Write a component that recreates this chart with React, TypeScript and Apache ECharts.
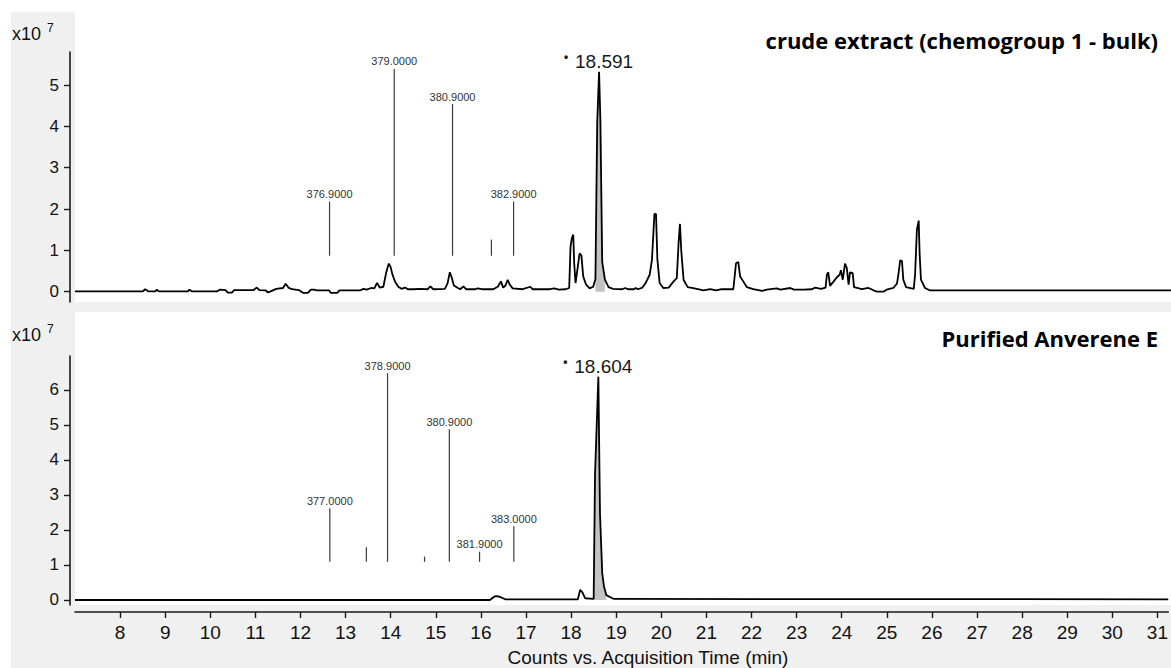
import React, { useEffect, useRef } from 'react';
import * as echarts from 'echarts';

const AXIS_FONT = '"Liberation Sans", Arial, sans-serif';
const TITLE_FONT = '"Open Sans", "Noto Sans", sans-serif';

// Retention-time axis (min)
const timeMin = 7;
const timeMax = 31.24;
const timeTicks = [8, 9, 10, 11, 12, 13, 14, 15, 16, 17, 18, 19, 20, 21, 22, 23, 24, 25, 26, 27, 28, 29, 30, 31];

// Intensity axes (x10^7 counts)
const crudeYTicks = [0, 1, 2, 3, 4, 5];
const pureYTicks = [0, 1, 2, 3, 4, 5, 6];

const crudeTitle = 'crude extract (chemogroup 1 - bulk)';
const pureTitle = 'Purified Anverene E';
const xAxisTitle = 'Counts vs. Acquisition Time (min)';

// Crude extract TIC: [time (min), counts x10^7]
const crudeTrace: [number, number][] = [
  [7.0, 0.01], [8.5, 0.01], [8.55, 0.06], [8.62, 0.01], [8.78, 0.01], [8.81, 0.05], [8.85, 0.01],
  [9.5, 0.01], [9.53, 0.05], [9.58, 0.01], [10.15, 0.01], [10.2, 0.05], [10.33, 0.04], [10.38, -0.02],
  [10.47, -0.02], [10.52, 0.04], [10.95, 0.04], [11.02, 0.1], [11.08, 0.04], [11.22, 0.03], [11.27, -0.02],
  [11.35, 0.02], [11.45, 0.07], [11.6, 0.09], [11.66, 0.19], [11.72, 0.1], [11.8, 0.06], [11.95, 0.04],
  [12.05, -0.03], [12.15, -0.03], [12.22, 0.05], [12.28, 0.05], [12.35, 0.03], [12.62, 0.03], [12.66, -0.03],
  [12.8, -0.03], [12.85, 0.03], [13.3, 0.03], [13.38, 0.07], [13.45, 0.05], [13.55, 0.09], [13.62, 0.08],
  [13.68, 0.21], [13.74, 0.1], [13.82, 0.12], [13.88, 0.45], [13.94, 0.68], [13.98, 0.6], [14.02, 0.42],
  [14.08, 0.24], [14.15, 0.12], [14.22, 0.07], [14.3, 0.1], [14.36, 0.06], [14.5, 0.06], [14.6, 0.07],
  [14.8, 0.06], [14.86, 0.13], [14.92, 0.06], [15.18, 0.07], [15.24, 0.2], [15.29, 0.47], [15.33, 0.35],
  [15.38, 0.15], [15.45, 0.1], [15.52, 0.06], [15.59, 0.13], [15.65, 0.06], [15.85, 0.06], [15.9, 0.08],
  [16.0, 0.06], [16.25, 0.06], [16.35, 0.12], [16.42, 0.25], [16.47, 0.1], [16.52, 0.15], [16.57, 0.29],
  [16.61, 0.18], [16.68, 0.08], [16.9, 0.06], [17.07, 0.12], [17.12, 0.06], [17.5, 0.06], [17.6, 0.08],
  [17.7, 0.05], [17.85, 0.06], [17.93, 0.09], [17.96, 1.1], [17.99, 1.3], [18.02, 1.38], [18.04, 0.7],
  [18.07, 0.21], [18.12, 0.6], [18.16, 0.93], [18.2, 0.88], [18.24, 0.37], [18.3, 0.18], [18.38, 0.08],
  [18.46, 0.12], [18.51, 0.3], [18.55, 4.1], [18.591, 5.32], [18.62, 4.15], [18.66, 0.72], [18.72, 0.29],
  [18.8, 0.11], [18.9, 0.07], [19.1, 0.06], [19.17, 0.09], [19.23, 0.06], [19.36, 0.06], [19.4, 0.09],
  [19.45, 0.06], [19.55, 0.1], [19.62, 0.21], [19.71, 0.41], [19.76, 0.77], [19.815, 1.88], [19.85, 1.88],
  [19.88, 0.79], [19.93, 0.21], [20.01, 0.09], [20.13, 0.1], [20.24, 0.25], [20.31, 0.33], [20.35, 1.19],
  [20.38, 1.64], [20.41, 0.97], [20.46, 0.29], [20.55, 0.11], [20.7, 0.08], [20.9, 0.03], [21.05, 0.06],
  [21.18, 0.03], [21.3, 0.06], [21.56, 0.06], [21.62, 0.69], [21.67, 0.72], [21.71, 0.37], [21.78, 0.25],
  [21.86, 0.11], [22.0, 0.06], [22.2, 0.02], [22.3, 0.05], [22.52, 0.08], [22.6, 0.05], [22.82, 0.09],
  [22.9, 0.05], [23.12, 0.05], [23.3, 0.06], [23.37, 0.1], [23.5, 0.07], [23.6, 0.1], [23.63, 0.41],
  [23.66, 0.47], [23.7, 0.14], [23.78, 0.25], [23.85, 0.35], [23.91, 0.41], [23.94, 0.52], [23.98, 0.29],
  [24.03, 0.68], [24.07, 0.57], [24.11, 0.17], [24.14, 0.47], [24.2, 0.45], [24.23, 0.11], [24.4, 0.06],
  [24.55, 0.09], [24.65, 0.04], [24.74, 0.0], [24.88, 0.0], [24.95, 0.05], [25.1, 0.09], [25.18, 0.2],
  [25.21, 0.41], [25.25, 0.76], [25.29, 0.74], [25.32, 0.29], [25.38, 0.11], [25.55, 0.07], [25.58, 0.41],
  [25.62, 1.5], [25.66, 1.72], [25.68, 0.93], [25.71, 0.29], [25.8, 0.09], [25.91, 0.03], [31.24, 0.03],
];

// Purified compound TIC: [time (min), counts x10^7]
const pureTrace: [number, number][] = [
  [7.0, 0.0], [16.2, 0.0], [16.3, 0.1], [16.36, 0.11], [16.44, 0.08], [16.54, 0.02], [18.15, 0.02],
  [18.2, 0.29], [18.25, 0.22], [18.31, 0.05], [18.5, 0.03], [18.53, 3.57], [18.604, 6.38], [18.64, 2.48],
  [18.69, 0.76], [18.73, 0.38], [18.78, 0.14], [18.87, 0.08], [18.95, 0.03], [31.24, 0.02],
];

// Integrated peak windows (min)
const crudeIntegration = [18.5, 18.72];
const pureIntegration = [18.5, 18.78];

// Spectrum ions drawn over the chromatogram (position, height, m/z label)
const crudeIonTimes = [12.63, 14.06, 15.35, 16.21, 16.7];
const crudeIonTops = [2.18, 5.39, 4.54, 1.26, 2.18];
const crudeIonLabels = ['376.9000', '379.0000', '380.9000', '', '382.9000'];
const crudeIonBase = 0.87;

const pureIonTimes = [12.65, 13.46, 13.93, 14.75, 15.3, 15.97, 16.73];
const pureIonTops = [2.62, 1.51, 6.48, 1.24, 4.88, 1.38, 2.11];
const pureIonLabels = ['377.0000', '', '378.9000', '', '380.9000', '381.9000', '383.0000'];
const pureIonBase = 1.09;

function traceSeries(panel: number, trace: [number, number][]) {
  return {
    type: 'line',
    xAxisIndex: panel,
    yAxisIndex: panel,
    data: trace,
    symbol: 'none',
    silent: true,
    z: 3,
    lineStyle: { color: '#000', width: 1.8 },
  };
}

function integrationSeries(panel: number, trace: [number, number][], win: number[]) {
  return {
    type: 'line',
    xAxisIndex: panel,
    yAxisIndex: panel,
    data: trace.filter(([t]) => t >= win[0] && t <= win[1]),
    symbol: 'none',
    silent: true,
    z: 2,
    lineStyle: { width: 0 },
    areaStyle: { color: '#c3c3c3', opacity: 1 },
  };
}

function ionSeries(panel: number, times: number[], tops: number[], labels: string[], base: number) {
  return {
    type: 'custom',
    xAxisIndex: panel,
    yAxisIndex: panel,
    clip: false,
    silent: true,
    z: 4,
    data: times.map((t, i) => [t, tops[i]]),
    renderItem: (params: any, api: any) => {
      const t = api.value(0);
      const p0 = api.coord([t, base]);
      const p1 = api.coord([t, api.value(1)]);
      const children: any[] = [
        {
          type: 'line',
          shape: { x1: p0[0], y1: p0[1], x2: p1[0], y2: p1[1] },
          style: { stroke: '#3a3a3a', lineWidth: 1.2 },
        },
      ];
      const label = labels[params.dataIndex];
      if (label) {
        children.push({
          type: 'text',
          x: p1[0],
          y: p1[1] - 2,
          style: {
            text: label,
            textAlign: 'center',
            textVerticalAlign: 'bottom',
            font: `11px ${AXIS_FONT}`,
            fill: '#333',
          },
        });
      }
      return { type: 'group', children };
    },
  };
}

function apexSeries(panel: number, trace: [number, number][]) {
  const apex = trace.reduce((a, b) => (b[1] > a[1] ? b : a));
  return {
    type: 'custom',
    xAxisIndex: panel,
    yAxisIndex: panel,
    clip: false,
    silent: true,
    z: 5,
    data: [apex],
    renderItem: (_params: any, api: any) => {
      const t = api.value(0);
      const p = api.coord([t, api.value(1)]);
      return {
        type: 'group',
        children: [
          {
            type: 'text',
            x: p[0] + 5,
            y: p[1] - 1,
            style: {
              text: t.toFixed(3),
              textAlign: 'center',
              textVerticalAlign: 'bottom',
              font: `19px ${AXIS_FONT}`,
              fill: '#1a1a1a',
            },
          },
          {
            type: 'text',
            x: p[0] - 33,
            y: p[1] - 15,
            style: {
              text: '•',
              textAlign: 'center',
              textVerticalAlign: 'middle',
              font: `bold 12px ${AXIS_FONT}`,
              fill: '#1a1a1a',
            },
          },
        ],
      };
    },
  };
}

function yAxis(panel: number, min: number, max: number, ticks: number[]) {
  return {
    gridIndex: panel,
    type: 'value',
    min,
    max,
    offset: 5,
    axisLine: { show: true, onZero: false, lineStyle: { color: '#1a1a1a', width: 1.6 } },
    axisTick: { show: true, length: 6, customValues: ticks, lineStyle: { color: '#1a1a1a', width: 1.4 } },
    axisLabel: { customValues: ticks, margin: 11, fontSize: 17, color: '#111', fontFamily: AXIS_FONT },
    splitLine: { show: false },
  };
}

function exponentLabel(y: number) {
  return [
    {
      type: 'text',
      x: 12,
      y,
      z: 10,
      style: { text: 'x10', font: `18px ${AXIS_FONT}`, fill: '#111', textVerticalAlign: 'middle' },
    },
    {
      type: 'text',
      x: 47,
      y: y - 6,
      z: 10,
      style: { text: '7', font: `12px ${AXIS_FONT}`, fill: '#111', textVerticalAlign: 'middle' },
    },
  ];
}

function buildOption() {
  return {
    animation: false,
    backgroundColor: '#fff',
    grid: [
      { left: 75, top: 52, width: 1096, height: 250 },
      { left: 75, top: 356, width: 1096, height: 249 },
    ],
    xAxis: [
      { gridIndex: 0, type: 'value', min: timeMin, max: timeMax, show: false },
      {
        gridIndex: 1,
        type: 'value',
        min: timeMin,
        max: timeMax,
        position: 'bottom',
        offset: 7,
        axisLine: { show: true, onZero: false, lineStyle: { color: '#1a1a1a', width: 1.6 } },
        axisTick: { show: true, length: 6, customValues: timeTicks, lineStyle: { color: '#1a1a1a', width: 1.4 } },
        axisLabel: { customValues: timeTicks, margin: 11, fontSize: 19, color: '#111', fontFamily: AXIS_FONT },
        splitLine: { show: false },
      },
    ],
    yAxis: [yAxis(0, -0.249, 5.8, crudeYTicks), yAxis(1, -0.143, 6.97, pureYTicks)],
    graphic: [
      { type: 'rect', z: -2, silent: true, shape: { x: 11, y: 12, width: 1160, height: 656 }, style: { fill: '#f0f0f0' } },
      { type: 'rect', z: -1, silent: true, shape: { x: 75, y: 12, width: 1096, height: 290 }, style: { fill: '#fff' } },
      { type: 'rect', z: -1, silent: true, shape: { x: 75, y: 312, width: 1096, height: 293 }, style: { fill: '#fff' } },
      ...exponentLabel(34),
      ...exponentLabel(335),
      {
        type: 'text',
        x: 1158,
        y: 40,
        z: 10,
        style: { text: crudeTitle, font: `bold 22px ${TITLE_FONT}`, fill: '#000', textAlign: 'right', textVerticalAlign: 'middle' },
      },
      {
        type: 'text',
        x: 1158,
        y: 338,
        z: 10,
        style: { text: pureTitle, font: `bold 22px ${TITLE_FONT}`, fill: '#000', textAlign: 'right', textVerticalAlign: 'middle' },
      },
      {
        type: 'text',
        x: 648,
        y: 657,
        z: 10,
        style: { text: xAxisTitle, font: `19px ${AXIS_FONT}`, fill: '#111', textAlign: 'center', textVerticalAlign: 'middle' },
      },
    ],
    series: [
      integrationSeries(0, crudeTrace, crudeIntegration),
      traceSeries(0, crudeTrace),
      ionSeries(0, crudeIonTimes, crudeIonTops, crudeIonLabels, crudeIonBase),
      apexSeries(0, crudeTrace),
      integrationSeries(1, pureTrace, pureIntegration),
      traceSeries(1, pureTrace),
      ionSeries(1, pureIonTimes, pureIonTops, pureIonLabels, pureIonBase),
      apexSeries(1, pureTrace),
    ],
  };
}

export default function App() {
  const ref = useRef<HTMLDivElement>(null);
  useEffect(() => {
    document.body.style.margin = '0';
    const chart = echarts.init(ref.current as HTMLDivElement, undefined, { renderer: 'svg' });
    chart.setOption(buildOption() as any);
    return () => chart.dispose();
  }, []);
  return <div ref={ref} style={{ width: 1171, height: 668 }} />;
}
